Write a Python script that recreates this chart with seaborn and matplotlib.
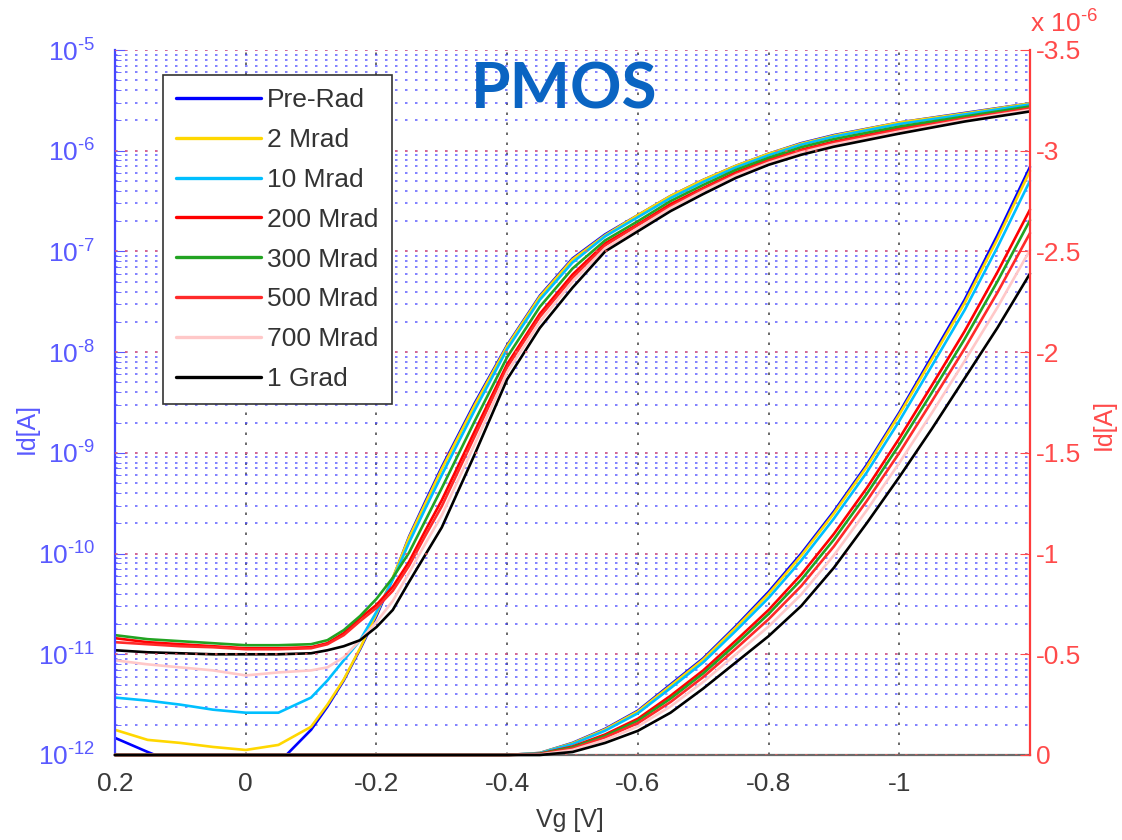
import numpy as np
import pandas as pd
import matplotlib
matplotlib.use("Agg")
import matplotlib.pyplot as plt
import seaborn as sns
from matplotlib.ticker import FuncFormatter, LogLocator, NullFormatter, FixedLocator
from matplotlib.lines import Line2D

# ---------------- data ----------------
series_names = ["Pre-Rad", "2 Mrad", "10 Mrad", "200 Mrad", "300 Mrad",
                "500 Mrad", "700 Mrad", "1 Grad"]
series_colors = ["#0000ff", "#ffd700", "#00bfff", "#ff0000", "#22a322",
                 "#ff2a2a", "#ffc8c8", "#000000"]

x_ticks = [0.2, 0.0, -0.2, -0.4, -0.6, -0.8, -1.0]
x_tick_labels = ["0.2", "0", "-0.2", "-0.4", "-0.6", "-0.8", "-1"]
right_ticks_uA = [0, -0.5, -1, -1.5, -2, -2.5, -3, -3.5]

# gate voltage grid for the log-scale (left axis) curves
vg_log = [0.2, 0.15, 0.1, 0.05, 0.0, -0.05, -0.1, -0.125, -0.15, -0.175, -0.2,
          -0.225, -0.25, -0.275, -0.3, -0.35, -0.4, -0.45, -0.5, -0.55, -0.6,
          -0.65, -0.7, -0.75, -0.8, -0.85, -0.9, -1.0, -1.1, -1.2]

log_id_pre_rad = [-11.83, -11.97, -12.1, -12.1, -12.1, -12.08, -11.75, -11.52, -11.26, -10.95,
                  -10.62, -10.25, -9.83, -9.48, -9.14, -8.51, -7.93, -7.44, -7.07, -6.83,
                  -6.64, -6.45, -6.29, -6.15, -6.03, -5.925, -5.845, -5.72, -5.625, -5.53]
log_id_2mrad = [-11.75, -11.85, -11.88, -11.92, -11.95, -11.9, -11.72, -11.5, -11.25, -10.94,
                -10.6, -10.24, -9.84, -9.50, -9.16, -8.53, -7.94, -7.45, -7.08, -6.84,
                -6.64, -6.45, -6.29, -6.15, -6.03, -5.93, -5.85, -5.72, -5.63, -5.53]
log_id_10mrad = [-11.43, -11.46, -11.5, -11.55, -11.58, -11.58, -11.43, -11.26, -11.06, -10.86,
                 -10.58, -10.26, -9.89, -9.55, -9.22, -8.58, -7.97, -7.48, -7.11, -6.85,
                 -6.66, -6.47, -6.31, -6.165, -6.045, -5.94, -5.86, -5.735, -5.64, -5.54]
log_id_200mrad = [-10.84, -10.88, -10.9, -10.92, -10.94, -10.94, -10.93, -10.89, -10.79, -10.64,
                  -10.51, -10.33, -10.08, -9.77, -9.47, -8.79, -8.12, -7.62, -7.23, -6.92,
                  -6.73, -6.53, -6.37, -6.215, -6.09, -5.99, -5.91, -5.78, -5.675, -5.575]
log_id_300mrad = [-10.81, -10.85, -10.87, -10.89, -10.91, -10.91, -10.9, -10.86, -10.76, -10.62,
                  -10.45, -10.24, -9.99, -9.67, -9.35, -8.69, -8.05, -7.55, -7.17, -6.89,
                  -6.7, -6.5, -6.34, -6.19, -6.07, -5.965, -5.885, -5.76, -5.66, -5.56]
log_id_500mrad = [-10.88, -10.9, -10.92, -10.93, -10.95, -10.95, -10.94, -10.9, -10.81, -10.67,
                  -10.54, -10.37, -10.12, -9.82, -9.53, -8.84, -8.15, -7.65, -7.26, -6.94,
                  -6.74, -6.55, -6.38, -6.23, -6.10, -6.0, -5.92, -5.79, -5.68, -5.58]
log_id_700mrad = [-11.06, -11.1, -11.13, -11.16, -11.21, -11.18, -11.16, -11.13, -11.03, -10.86,
                  -10.68, -10.47, -10.19, -9.90, -9.62, -8.92, -8.2, -7.7, -7.3, -6.97,
                  -6.77, -6.57, -6.4, -6.245, -6.12, -6.017, -5.937, -5.81, -5.695, -5.595]
log_id_1grad = [-10.96, -10.98, -10.99, -11.0, -11.0, -11.0, -10.99, -10.96, -10.92, -10.86,
                -10.73, -10.56, -10.28, -10.01, -9.74, -9.02, -8.27, -7.76, -7.36, -7.0,
                -6.8, -6.6, -6.43, -6.27, -6.14, -6.04, -5.96, -5.83, -5.71, -5.61]

# gate voltage grid for the linear (right axis) curves
vg_lin = [0.2, -0.4, -0.45, -0.5, -0.55, -0.6, -0.65, -0.7, -0.75, -0.8, -0.85,
          -0.9, -0.95, -1.0, -1.05, -1.1, -1.15, -1.2]

lin_id_pre_rad = [0, 0, 0.01, 0.06, 0.13, 0.22, 0.35, 0.48, 0.64, 0.81, 1.0,
                  1.21, 1.44, 1.70, 1.98, 2.26, 2.58, 2.92]
lin_id_2mrad = [0, 0, 0.01, 0.058, 0.127, 0.216, 0.344, 0.474, 0.633, 0.80, 0.99,
                1.20, 1.43, 1.69, 1.966, 2.244, 2.56, 2.90]
lin_id_10mrad = [0, 0, 0.009, 0.054, 0.121, 0.207, 0.332, 0.46, 0.617, 0.78, 0.966,
                 1.174, 1.402, 1.658, 1.933, 2.209, 2.52, 2.851]
lin_id_200mrad = [0, 0, 0.006, 0.042, 0.102, 0.18, 0.294, 0.42, 0.568, 0.72, 0.896,
                  1.098, 1.324, 1.572, 1.836, 2.104, 2.396, 2.708]
lin_id_300mrad = [0, 0, 0.005, 0.038, 0.095, 0.17, 0.28, 0.405, 0.55, 0.70, 0.87,
                  1.07, 1.295, 1.54, 1.80, 2.065, 2.35, 2.655]
lin_id_500mrad = [0, 0, 0.004, 0.032, 0.087, 0.158, 0.263, 0.387, 0.528, 0.674, 0.839,
                  1.036, 1.26, 1.50, 1.757, 2.018, 2.295, 2.591]
lin_id_700mrad = [0, 0, 0.002, 0.025, 0.075, 0.142, 0.241, 0.363, 0.50, 0.638, 0.797,
                  0.992, 1.214, 1.45, 1.699, 1.956, 2.221, 2.507]
lin_id_1grad = [0, 0, 0, 0.015, 0.06, 0.12, 0.21, 0.33, 0.46, 0.59, 0.74,
                0.93, 1.15, 1.38, 1.62, 1.87, 2.12, 2.39]

log_series = [log_id_pre_rad, log_id_2mrad, log_id_10mrad, log_id_200mrad,
              log_id_300mrad, log_id_500mrad, log_id_700mrad, log_id_1grad]
lin_series = [lin_id_pre_rad, lin_id_2mrad, lin_id_10mrad, lin_id_200mrad,
              lin_id_300mrad, lin_id_500mrad, lin_id_700mrad, lin_id_1grad]

# ---------------- tables ----------------
rows_log = []
for name, vals in zip(series_names, log_series):
    for v, l in zip(vg_log, vals):
        rows_log.append({"Vg": v, "Id": 10.0 ** l, "series": name})
df_log = pd.DataFrame(rows_log)

rows_lin = []
for name, vals in zip(series_names, lin_series):
    for v, i in zip(vg_lin, vals):
        rows_lin.append({"Vg": v, "Id": -i * 1e-6, "series": name})
df_lin = pd.DataFrame(rows_lin)

# ---------------- style ----------------
sns.set_style("white")
plt.rcParams["font.family"] = ["Liberation Sans", "DejaVu Sans"]
plt.rcParams["mathtext.fontset"] = "custom"
plt.rcParams["mathtext.rm"] = "Liberation Sans"
plt.rcParams["mathtext.it"] = "Liberation Sans:italic"
plt.rcParams["mathtext.bf"] = "Liberation Sans:bold"

BLUE_TXT = "#5a5aff"
RED_TXT = "#ff4a4a"
GRID_BLUE = "#3c3cff"
GRID_RED = "#ff5a5a"
dots = (0, (1.5, 4.5))

W, H = 1122, 840
fig = plt.figure(figsize=(W / 100, H / 100), dpi=100)
ax = fig.add_axes([115 / W, 1 - 755 / H, 915 / W, 705 / H])
ax2 = ax.twinx()

sns.lineplot(data=df_log, x="Vg", y="Id", hue="series", hue_order=series_names,
             palette=series_colors, ax=ax, linewidth=1.9, legend=False,
             estimator=None, sort=False)
sns.lineplot(data=df_lin, x="Vg", y="Id", hue="series", hue_order=series_names,
             palette=series_colors, ax=ax2, linewidth=1.9, legend=False,
             estimator=None, sort=False)
for ln in ax2.get_lines():
    ln.set_clip_on(False)

ax.set_yscale("log")
ax.set_xlim(0.2, -1.2)
ax.set_ylim(1e-12, 1e-5)
ax2.set_ylim(0, -3.5e-6)
for a in (ax, ax2):
    a.set_xlabel("")
    a.set_ylabel("")

# left (log) axis
ax.yaxis.set_major_locator(LogLocator(base=10, numticks=20))
ax.yaxis.set_minor_locator(LogLocator(base=10, subs=np.arange(2, 10), numticks=100))
ax.yaxis.set_minor_formatter(NullFormatter())
ax.yaxis.set_major_formatter(FuncFormatter(
    lambda v, p: r"10$^{\text{-%d}}$" % abs(int(round(np.log10(v))))))
ax.tick_params(axis="y", which="both", direction="in", colors=BLUE_TXT,
               labelsize=19, pad=14)
ax.tick_params(axis="y", which="major", length=7)
ax.tick_params(axis="y", which="minor", length=4)

# x axis
ax.set_xticks(x_ticks)
ax.set_xticklabels(x_tick_labels)
ax.tick_params(axis="x", which="both", direction="in", colors="#3a3a3a",
               labelsize=19, pad=12, length=7)

# right (linear) axis
ax2.yaxis.set_major_locator(FixedLocator([t * 1e-6 for t in right_ticks_uA]))
ax2.yaxis.set_major_formatter(FuncFormatter(
    lambda v, p: "0" if abs(v) < 1e-12 else "%g" % round(v * 1e6, 3)))
ax2.tick_params(axis="y", direction="in", colors=RED_TXT, labelsize=19,
                pad=4, length=7)

# grids
ax.set_axisbelow(True)
ax.yaxis.grid(True, which="both", color=GRID_BLUE, linestyle=dots,
              linewidth=1.2, alpha=0.75)
ax.xaxis.grid(True, which="major", color="#333333", linestyle=dots,
              linewidth=1.2, alpha=0.85)
ax2.set_axisbelow(True)
ax2.yaxis.grid(True, which="major", color=GRID_RED, linestyle=dots,
               linewidth=1.2, alpha=0.8)
ax2.xaxis.grid(False)

# spines
for a in (ax, ax2):
    a.spines["top"].set_visible(False)
ax.spines["right"].set_visible(False)
ax.spines["left"].set_color("#4646ff")
ax.spines["left"].set_linewidth(1.6)
ax.spines["bottom"].set_color("#6a6a6a")
ax.spines["bottom"].set_linewidth(1.6)
ax2.spines["left"].set_visible(False)
ax2.spines["bottom"].set_visible(False)
ax2.spines["right"].set_color("#ff3c3c")
ax2.spines["right"].set_linewidth(1.6)

# labels
fig.text(570 / W, 1 - 820 / H, "Vg [V]", fontsize=18, color="#3a3a3a",
         ha="center", va="center")
fig.text(27 / W, 1 - 428 / H, "Id[A]", fontsize=18, color=BLUE_TXT,
         ha="center", va="center", rotation=90)
fig.text(1104 / W, 1 - 425 / H, "Id[A]", fontsize=18, color=RED_TXT,
         ha="center", va="center", rotation=90)
fig.text(1030 / W, 1 - 38 / H, r"x 10$^{\text{-6}}$", color=RED_TXT,
         fontsize=19, ha="left", va="bottom")

# legend
handles = [Line2D([0], [0], color=c, lw=2.4) for c in series_colors]
leg = ax2.legend(handles, series_names, loc="upper left",
                 bbox_to_anchor=(48 / 915, 1 - 25 / 705), fontsize=19,
                 frameon=True, fancybox=False, edgecolor="#333333",
                 framealpha=1, handlelength=3.2, handletextpad=0.25,
                 labelspacing=0.6, borderpad=0.5, borderaxespad=0)
leg.get_frame().set_linewidth(1.2)
for t in leg.get_texts():
    t.set_color("#333333")

fig.text(0.503, 0.893, "PMOS", fontsize=46, fontweight="bold", color="#0a64c2",
         ha="center", va="center", family=["Lato", "DejaVu Sans"])

fig.savefig("out.png", dpi=100)
